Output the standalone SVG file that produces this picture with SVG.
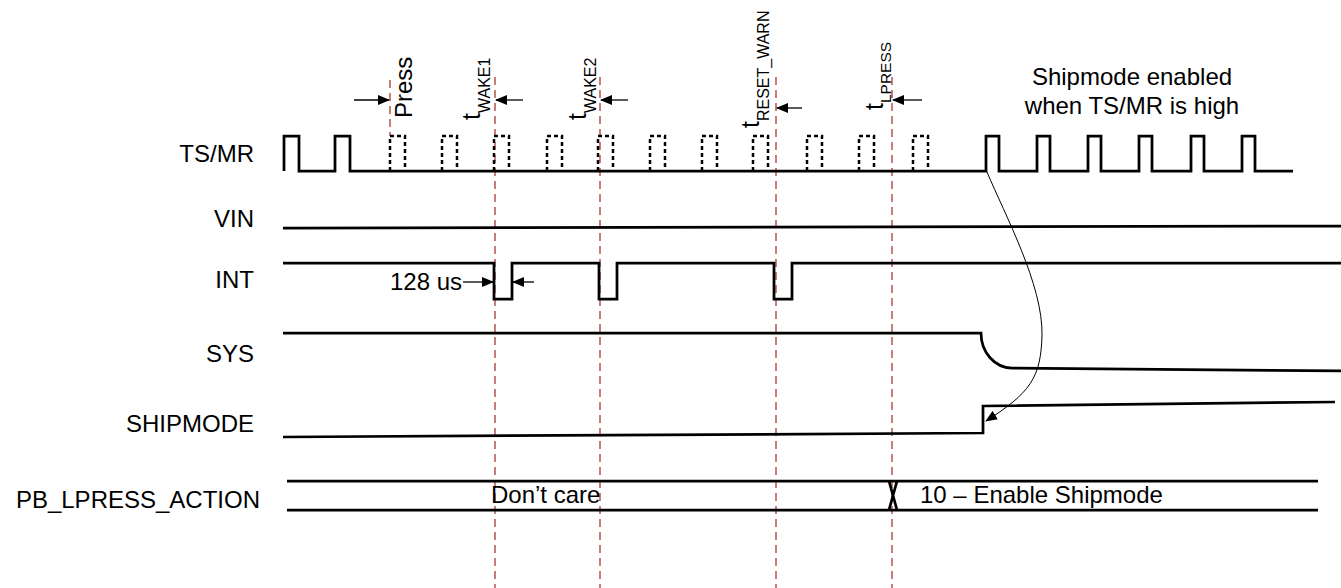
<svg xmlns="http://www.w3.org/2000/svg" width="1341" height="588" viewBox="0 0 1341 588">
<style>
text{font-family:"Liberation Sans",Arial,sans-serif;fill:#000}
.lbl{font-size:24px;text-anchor:end}
.txt{font-size:24px}
.sig{fill:none;stroke:#000;stroke-width:2.75;stroke-linejoin:miter}
.dpulse{fill:none;stroke:#000;stroke-width:2.5;stroke-dasharray:4 3}
.ref{fill:none;stroke:#b9514c;stroke-width:1.5;stroke-dasharray:8 5}
.arr{fill:none;stroke:#000;stroke-width:1.3;marker-end:url(#ah)}
.curve{fill:none;stroke:#000;stroke-width:1;marker-end:url(#ah)}
</style>
<defs>
<marker id="ah" markerUnits="userSpaceOnUse" markerWidth="12" markerHeight="10" refX="11" refY="5" orient="auto">
<path d="M0,0 L12,5 L0,10 z" fill="#000"/>
</marker>
</defs>
<rect width="1341" height="588" fill="#fff"/>

<g id="labels">
<text class="lbl" x="254" y="162">TS/MR</text>
<text class="lbl" x="254" y="227">VIN</text>
<text class="lbl" x="254" y="288">INT</text>
<text class="lbl" x="254" y="362">SYS</text>
<text class="lbl" x="254" y="432">SHIPMODE</text>
<text class="lbl" x="260" y="508">PB_LPRESS_ACTION</text>
</g>

<g id="ref-lines">
<line class="ref" x1="390" y1="80" x2="390" y2="136"/>
<line class="ref" x1="495" y1="77" x2="495" y2="588"/>
<line class="ref" x1="600" y1="77" x2="600" y2="588"/>
<line class="ref" x1="776" y1="77" x2="776" y2="588"/>
<line class="ref" x1="892" y1="77" x2="892" y2="588"/>
</g>

<g id="ts-mr">
<path class="sig" d="M284,171 V136 H299 V171 H335 V136 H350 V171 H986 V136 H999 V171 H1037 V136 H1050 V171 H1088 V136 H1101 V171 H1139 V136 H1152 V171 H1191 V136 H1204 V171 H1242 V136 H1255 V171 H1293"/>
<path class="dpulse" d="M390,171 V136 H405 V171 M442,171 V136 H457 V171 M494,171 V136 H509 V171 M547,171 V136 H562 V171 M598,171 V136 H613 V171 M650,171 V136 H665 V171 M702,171 V136 H717 V171 M753,171 V136 H768 V171 M807,171 V136 H822 V171 M859,171 V136 H874 V171 M913,171 V136 H928 V171"/>
</g>

<g id="vin">
<path class="sig" d="M283,228 L1341,226"/>
</g>

<g id="int">
<path class="sig" d="M283,263 H494 V299 H512 V263 H599 V299 H617 V263 H774 V299 H792 V263 H1341"/>
<text class="txt" x="462" y="290" text-anchor="end">128 us</text>
</g>

<g id="sys">
<path class="sig" d="M283,333 H981 A31,35 0 0 0 1012,368 L1341,371"/>
</g>

<g id="shipmode">
<path class="sig" d="M283,437 L983,433 V406 L1335,402"/>
</g>

<g id="pb-lpress-action">
<path class="sig" d="M287,481 H1318 M287,510 H1318"/>
<path class="sig" d="M889,481 L897,510 M897,481 L889,510" stroke-width="2"/>
<text class="txt" x="491" y="503">Don’t care</text>
<text class="txt" x="920" y="503">10 – Enable Shipmode</text>
</g>

<g id="timing-labels">
<text transform="translate(412,118) rotate(-90)" font-size="24">Press</text>
<text transform="translate(480,120) rotate(-90)" font-size="25">t<tspan font-size="16" dy="10">WAKE1</tspan></text>
<text transform="translate(586,120) rotate(-90)" font-size="25">t<tspan font-size="16" dy="10">WAKE2</tspan></text>
<text transform="translate(759,128) rotate(-90)" font-size="25">t<tspan font-size="16" dy="10">RESET_WARN</tspan></text>
<text transform="translate(883,110) rotate(-90)" font-size="25">t<tspan font-size="15.5" dy="8">LPRESS</tspan></text>
<text class="txt" x="1132" y="85" text-anchor="middle">Shipmode enabled</text>
<text class="txt" x="1132" y="114" text-anchor="middle">when TS/MR is high</text>
</g>

<g id="connectors">
<line class="arr" x1="354" y1="100" x2="389" y2="100"/>
<line class="arr" x1="523" y1="100" x2="496" y2="100"/>
<line class="arr" x1="628" y1="100" x2="601" y2="100"/>
<line class="arr" x1="802" y1="108" x2="777" y2="108"/>
<line class="arr" x1="922" y1="100" x2="893" y2="100"/>
<line class="arr" x1="463" y1="282" x2="493" y2="282"/>
<line class="arr" x1="534" y1="282" x2="513" y2="282"/>
<path class="curve" d="M987,172 C1005,215 1043,285 1042,335 C1041,378 1030,393 986,421"/>
</g>
</svg>
